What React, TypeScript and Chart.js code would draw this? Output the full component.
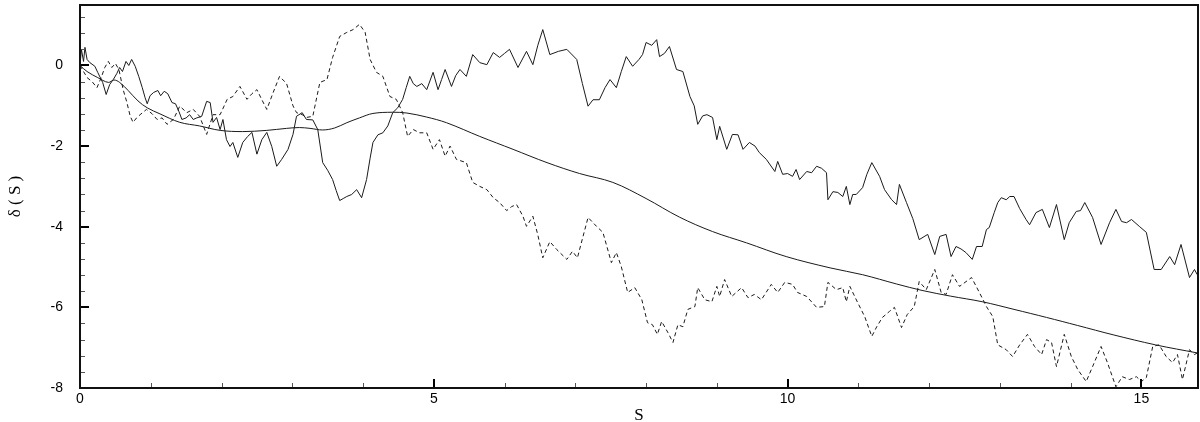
import React, { useEffect, useRef } from "react";
import { Chart, registerables } from "chart.js";

Chart.register(...registerables);

// Smooth (mean) curve
const smoothX = [0, 0.1, 0.25, 0.4, 0.48, 0.56, 0.68, 0.82, 0.95, 1.13, 1.41, 1.69, 1.98, 2.3, 2.64, 2.92, 3.1, 3.25, 3.43, 3.6, 3.77, 3.95, 4.14, 4.42, 4.62, 4.9, 5.18, 5.65, 6.12, 6.6, 7.06, 7.53, 8.0, 8.47, 8.94, 9.42, 9.98, 10.6, 11.06, 11.54, 11.9, 12.3, 12.75, 13.2, 13.66, 14.1, 14.6, 15.2, 15.79];
const smoothY = [0, -0.15, -0.3, -0.42, -0.36, -0.42, -0.62, -0.88, -1.05, -1.2, -1.41, -1.5, -1.61, -1.64, -1.61, -1.56, -1.54, -1.56, -1.6, -1.55, -1.42, -1.3, -1.19, -1.16, -1.18, -1.28, -1.42, -1.76, -2.08, -2.41, -2.68, -2.9, -3.3, -3.76, -4.12, -4.4, -4.74, -5.02, -5.19, -5.42, -5.58, -5.72, -5.86, -6.05, -6.25, -6.45, -6.68, -6.93, -7.13];

// Solid noisy path
const solidX = [0, 0.02, 0.05, 0.07, 0.1, 0.14, 0.21, 0.25, 0.32, 0.37, 0.42, 0.47, 0.52, 0.56, 0.6, 0.65, 0.69, 0.73, 0.78, 0.83, 0.88, 0.92, 0.95, 0.99, 1.04, 1.1, 1.14, 1.19, 1.24, 1.3, 1.35, 1.4, 1.44, 1.5, 1.55, 1.6, 1.65, 1.72, 1.79, 1.84, 1.88, 1.93, 1.98, 2.02, 2.07, 2.12, 2.16, 2.23, 2.3, 2.37, 2.43, 2.5, 2.57, 2.64, 2.71, 2.78, 2.85, 2.94, 3.01, 3.06, 3.14, 3.2, 3.29, 3.36, 3.43, 3.5, 3.57, 3.62, 3.67, 3.72, 3.77, 3.84, 3.91, 3.98, 4.05, 4.1, 4.14, 4.21, 4.28, 4.35, 4.42, 4.49, 4.56, 4.61, 4.66, 4.71, 4.76, 4.83, 4.9, 4.99, 5.06, 5.11, 5.16, 5.25, 5.31, 5.37, 5.46, 5.55, 5.65, 5.75, 5.84, 5.93, 6.0, 6.07, 6.19, 6.31, 6.4, 6.47, 6.54, 6.64, 6.76, 6.88, 7.02, 7.1, 7.18, 7.25, 7.34, 7.42, 7.49, 7.58, 7.65, 7.72, 7.81, 7.9, 7.95, 8.0, 8.08, 8.15, 8.19, 8.26, 8.33, 8.43, 8.52, 8.62, 8.68, 8.73, 8.8, 8.86, 8.94, 9.0, 9.04, 9.14, 9.22, 9.3, 9.37, 9.46, 9.54, 9.6, 9.7, 9.82, 9.86, 9.93, 10.0, 10.07, 10.12, 10.17, 10.27, 10.34, 10.41, 10.48, 10.55, 10.57, 10.64, 10.71, 10.78, 10.83, 10.88, 10.92, 10.97, 11.06, 11.12, 11.19, 11.3, 11.37, 11.47, 11.54, 11.58, 11.68, 11.77, 11.86, 11.98, 12.08, 12.15, 12.24, 12.31, 12.38, 12.45, 12.52, 12.61, 12.67, 12.75, 12.81, 12.85, 12.92, 12.97, 13.02, 13.09, 13.14, 13.2, 13.28, 13.37, 13.42, 13.51, 13.6, 13.7, 13.8, 13.91, 13.98, 14.08, 14.14, 14.2, 14.31, 14.43, 14.55, 14.64, 14.72, 14.79, 14.86, 14.97, 15.07, 15.18, 15.28, 15.4, 15.47, 15.56, 15.68, 15.75, 15.79];
const solidY = [0, 0.4, 0.1, 0.45, 0.15, 0.07, -0.02, -0.17, -0.42, -0.72, -0.47, -0.35, -0.2, -0.05, -0.15, 0.1, 0.0, 0.15, -0.02, -0.27, -0.55, -0.8, -0.95, -0.75, -0.67, -0.62, -0.75, -0.64, -0.7, -0.92, -0.95, -1.15, -1.34, -1.3, -1.22, -1.34, -1.3, -1.26, -0.89, -0.92, -1.41, -1.29, -1.59, -1.34, -1.84, -2.01, -1.91, -2.28, -1.91, -1.76, -1.66, -2.2, -1.84, -1.66, -2.01, -2.5, -2.33, -2.08, -1.71, -1.26, -1.17, -1.34, -1.35, -1.59, -2.41, -2.6, -2.83, -3.1, -3.35, -3.3, -3.25, -3.2, -3.08, -3.28, -2.83, -2.3, -1.91, -1.72, -1.67, -1.5, -1.17, -1.05, -0.84, -0.55, -0.27, -0.45, -0.52, -0.45, -0.6, -0.17, -0.6, -0.35, -0.1, -0.52, -0.25, -0.1, -0.27, 0.27, 0.07, 0.02, 0.32, 0.2, 0.3, 0.4, -0.05, 0.35, 0.02, 0.5, 0.89, 0.27, 0.35, 0.4, 0.15, -0.45, -1.01, -0.85, -0.85, -0.55, -0.35, -0.55, -0.15, 0.22, -0.02, 0.15, 0.27, 0.57, 0.5, 0.64, 0.22, 0.3, 0.47, -0.1, -0.15, -0.77, -1.0, -1.46, -1.25, -1.22, -1.29, -1.84, -1.51, -2.08, -1.71, -1.72, -2.08, -1.91, -2.0, -2.16, -2.33, -2.63, -2.38, -2.7, -2.68, -2.75, -2.58, -2.83, -2.63, -2.66, -2.5, -2.55, -2.66, -3.33, -3.13, -3.15, -3.25, -3.0, -3.45, -3.2, -3.2, -3.03, -2.7, -2.41, -2.75, -3.08, -3.33, -3.45, -2.95, -3.4, -3.8, -4.32, -4.19, -4.69, -4.24, -4.19, -4.74, -4.49, -4.55, -4.64, -4.81, -4.49, -4.49, -4.07, -4.02, -3.65, -3.4, -3.28, -3.33, -3.25, -3.25, -3.55, -3.82, -3.95, -3.65, -3.57, -4.02, -3.45, -4.32, -3.9, -3.62, -3.6, -3.4, -3.77, -4.44, -3.9, -3.57, -3.87, -3.9, -3.82, -3.99, -4.14, -5.06, -5.06, -4.74, -4.94, -4.44, -5.26, -5.06, -5.19];

// Dashed noisy path
const dashedX = [0, 0.05, 0.1, 0.17, 0.24, 0.3, 0.35, 0.4, 0.45, 0.5, 0.55, 0.61, 0.66, 0.71, 0.75, 0.8, 0.85, 0.94, 1.02, 1.09, 1.16, 1.23, 1.32, 1.41, 1.51, 1.6, 1.69, 1.79, 1.88, 1.98, 2.08, 2.16, 2.26, 2.36, 2.43, 2.5, 2.57, 2.64, 2.73, 2.82, 2.92, 3.01, 3.06, 3.14, 3.2, 3.29, 3.39, 3.49, 3.57, 3.67, 3.77, 3.86, 3.95, 4.03, 4.1, 4.19, 4.28, 4.38, 4.47, 4.56, 4.63, 4.71, 4.8, 4.9, 4.99, 5.08, 5.16, 5.23, 5.32, 5.46, 5.55, 5.65, 5.75, 5.84, 5.93, 6.03, 6.1, 6.17, 6.26, 6.31, 6.4, 6.47, 6.54, 6.64, 6.74, 6.88, 6.96, 7.03, 7.1, 7.18, 7.3, 7.39, 7.51, 7.58, 7.65, 7.74, 7.84, 7.94, 8.02, 8.09, 8.16, 8.22, 8.31, 8.38, 8.45, 8.52, 8.59, 8.69, 8.73, 8.83, 8.93, 9.0, 9.04, 9.11, 9.21, 9.35, 9.44, 9.53, 9.63, 9.77, 9.86, 9.96, 10.07, 10.14, 10.27, 10.41, 10.52, 10.57, 10.69, 10.78, 10.83, 10.88, 10.99, 11.09, 11.19, 11.26, 11.34, 11.44, 11.51, 11.61, 11.69, 11.79, 11.86, 11.96, 12.08, 12.17, 12.24, 12.33, 12.43, 12.6, 12.71, 12.81, 12.9, 12.97, 13.09, 13.18, 13.28, 13.39, 13.49, 13.59, 13.66, 13.73, 13.8, 13.91, 14.01, 14.1, 14.22, 14.31, 14.43, 14.52, 14.64, 14.73, 14.83, 14.93, 15.0, 15.07, 15.16, 15.25, 15.35, 15.44, 15.51, 15.58, 15.68, 15.75, 15.79];
const dashedY = [0, -0.15, -0.3, -0.4, -0.55, -0.3, -0.05, 0.1, -0.05, 0.05, -0.1, -0.6, -0.9, -1.26, -1.41, -1.3, -1.22, -1.09, -1.2, -1.34, -1.3, -1.46, -1.34, -1.01, -1.17, -1.09, -1.26, -1.71, -1.22, -1.22, -0.84, -0.77, -0.52, -0.84, -0.7, -0.6, -0.85, -1.09, -0.67, -0.27, -0.45, -1.0, -1.17, -1.22, -1.29, -1.26, -0.42, -0.35, 0.2, 0.72, 0.82, 0.89, 1.02, 0.82, 0.15, -0.17, -0.27, -0.77, -0.84, -1.17, -1.76, -1.59, -1.67, -1.67, -2.08, -1.84, -2.25, -2.0, -2.33, -2.41, -2.9, -3.0, -3.08, -3.28, -3.4, -3.6, -3.5, -3.45, -3.74, -3.99, -3.74, -4.2, -4.77, -4.37, -4.57, -4.81, -4.61, -4.77, -4.3, -3.77, -3.99, -4.14, -4.89, -4.64, -4.99, -5.63, -5.51, -5.81, -6.38, -6.43, -6.67, -6.35, -6.63, -6.87, -6.43, -6.48, -6.05, -5.98, -5.51, -5.81, -5.86, -5.48, -5.73, -5.31, -5.73, -5.51, -5.76, -5.68, -5.81, -5.43, -5.63, -5.38, -5.43, -5.63, -5.73, -6.0, -5.98, -5.38, -5.56, -5.51, -5.86, -5.48, -5.88, -6.23, -6.72, -6.48, -6.25, -6.1, -6.0, -6.5, -6.18, -5.98, -5.36, -5.56, -5.06, -5.63, -5.68, -5.19, -5.48, -5.26, -5.63, -5.98, -6.23, -6.93, -7.05, -7.22, -6.93, -6.67, -6.97, -7.17, -6.8, -6.87, -7.47, -6.67, -7.22, -7.54, -7.84, -7.47, -6.97, -7.37, -7.97, -7.72, -7.79, -7.72, -7.84, -7.74, -6.97, -6.93, -7.22, -7.37, -7.17, -7.79, -7.05, -7.17, -7.13];

const xMin = 0;
const xMax = 15.8;
const yMin = -8;
const yMax = 1.5;
const xMajorStep = 5;
const xMinorStep = 1;
const yMajorStep = 2;
const yMinorStep = 0.4;

const toPoints = (xs: number[], ys: number[]) => xs.map((x, i) => ({ x, y: ys[i] }));

const framePlugin = {
  id: "frameTicks",
  afterDatasetsDraw(chart: any) {
    const { ctx, chartArea } = chart;
    const { left, right, top, bottom } = chartArea;
    const xs = chart.scales.x;
    const ys = chart.scales.y;
    ctx.save();
    // minor ticks
    ctx.strokeStyle = "#555";
    ctx.lineWidth = 1;
    for (let k = 0; ; k++) {
      const r = Math.round((xMin + k * xMinorStep) * 1000) / 1000;
      if (r > xMax) break;
      if (Math.abs(r % xMajorStep) < 1e-6) continue;
      const px = Math.round(xs.getPixelForValue(r)) + 0.5;
      ctx.beginPath();
      ctx.moveTo(px, bottom);
      ctx.lineTo(px, bottom - 5);
      ctx.stroke();
    }
    for (let k = 0; ; k++) {
      const r = Math.round((yMin + k * yMinorStep) * 1000) / 1000;
      if (r > yMax) break;
      if (Math.abs(r % yMajorStep) < 1e-6) continue;
      const py = Math.round(ys.getPixelForValue(r)) + 0.5;
      ctx.beginPath();
      ctx.moveTo(left, py);
      ctx.lineTo(left + 5, py);
      ctx.stroke();
    }
    // major ticks
    ctx.strokeStyle = "#000";
    ctx.lineWidth = 2;
    for (let v = xMin; v <= xMax; v += xMajorStep) {
      const px = Math.round(xs.getPixelForValue(v));
      ctx.beginPath();
      ctx.moveTo(px, bottom);
      ctx.lineTo(px, bottom - 9);
      ctx.stroke();
    }
    for (let v = yMin; v <= yMax; v += yMajorStep) {
      const py = Math.round(ys.getPixelForValue(v));
      ctx.beginPath();
      ctx.moveTo(left, py);
      ctx.lineTo(left + 9, py);
      ctx.stroke();
    }
    // frame
    ctx.strokeStyle = "#111";
    ctx.lineWidth = 2;
    ctx.strokeRect(left, top, right - left, bottom - top);
    ctx.restore();
  },
};

export default function App() {
  const ref = useRef<HTMLCanvasElement | null>(null);
  useEffect(() => {
    if (!ref.current) return;
    const chart = new Chart(ref.current, {
      type: "line",
      data: {
        datasets: [
          {
            label: "mean",
            data: toPoints(smoothX, smoothY),
            borderColor: "#1a1a1a",
            borderWidth: 1,
            pointRadius: 0,
            tension: 0.35,
            fill: false,
          },
          {
            label: "solid",
            data: toPoints(solidX, solidY),
            borderColor: "#1a1a1a",
            borderWidth: 1,
            pointRadius: 0,
            tension: 0,
            fill: false,
          },
          {
            label: "dashed",
            data: toPoints(dashedX, dashedY),
            borderColor: "#1a1a1a",
            borderWidth: 1,
            borderDash: [4, 3],
            pointRadius: 0,
            tension: 0,
            fill: false,
          },
        ],
      },
      options: {
        animation: false,
        responsive: true,
        maintainAspectRatio: false,
        layout: { padding: { top: 5, right: 2, left: 0, bottom: 0 } },
        plugins: { legend: { display: false }, tooltip: { enabled: false } },
        scales: {
          x: {
            type: "linear",
            min: xMin,
            max: xMax,
            grid: { display: false, drawTicks: false },
            border: { display: false },
            ticks: {
              stepSize: xMajorStep,
              includeBounds: false,
              color: "#000",
              padding: 3,
              maxRotation: 0,
              font: { family: "'Liberation Sans', Arial, sans-serif", size: 14 },
            },
            title: {
              display: true,
              text: "S",
              color: "#000",
              font: { family: "'Liberation Serif', 'Times New Roman', serif", size: 17, lineHeight: 0.8 },
              padding: { top: 0, bottom: 0 },
            },
            afterFit: (s: any) => {
              s.height = 34;
              s.paddingLeft = 0;
              s.paddingRight = 0;
            },
          },
          y: {
            type: "linear",
            min: yMin,
            max: yMax,
            grid: { display: false, drawTicks: false },
            border: { display: false },
            ticks: {
              stepSize: yMajorStep,
              includeBounds: false,
              color: "#000",
              padding: 17,
              font: { family: "'Liberation Sans', Arial, sans-serif", size: 14 },
            },
            title: {
              display: true,
              text: "δ ( S )",
              color: "#000",
              font: { family: "'Liberation Serif', 'Times New Roman', serif", size: 17, lineHeight: 1 },
              padding: { top: 7, bottom: 0 },
            },
            afterFit: (s: any) => {
              s.width = 80;
              s.paddingTop = 0;
              s.paddingBottom = 0;
            },
          },
        },
      },
      plugins: [framePlugin],
    });
    return () => chart.destroy();
  }, []);
  return (
    <div style={{ position: "absolute", left: 0, top: 0, width: 1200, height: 422, background: "#fff" }}>
      <canvas ref={ref} />
    </div>
  );
}
